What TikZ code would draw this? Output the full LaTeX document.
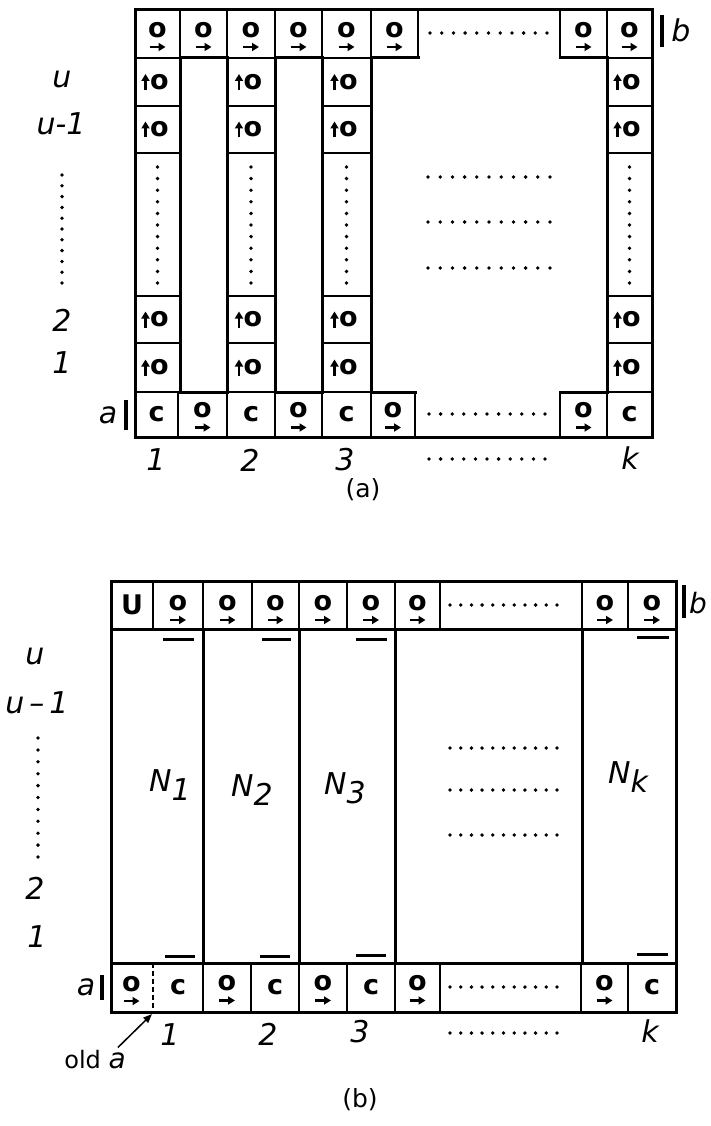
\documentclass[tikz,border=0pt]{standalone}
\usepackage{fontspec}
\setmainfont{DejaVu Sans}
\usetikzlibrary{arrows.meta}
\newcommand\OGly[3]{%
  \node[glyph] (#1) at ({#2},{#3-4}) {o};
  \draw[arr] ({#2-8},{#3+13}) -- ({#2+8},{#3+13});}
\newcommand\UGly[3]{%
  \node[glyph] (#1) at ({#2+2},{#3}) {o};
  \draw[arr] ({#2-12},{#3+8}) -- ({#2-12},{#3-8});}
\newcommand\CGly[3]{%
  \node[glyph] (#1) at ({#2},{#3}) {c};}
\begin{document}
\begin{tikzpicture}[x=1pt,y=-1pt,
  cellln/.style={line width=1.4pt},
  outln/.style={line width=3pt, line cap=rect},
  glyph/.style={font=\fontsize{27}{27}\selectfont\bfseries, inner sep=0pt},
  lbl/.style={font=\fontsize{30}{30}\selectfont\itshape, inner sep=0pt},
  captxt/.style={font=\fontsize{25}{25}\selectfont, inner sep=0pt},
  arr/.style={line width=2.3pt, -{Triangle[length=7pt,width=8pt]}},
  barln/.style={line width=3.5pt},
  dshbar/.style={line width=3pt}]
\useasboundingbox (0,0) rectangle (710,1126);

% ================= (a) =================
% top row
\foreach \xa/\xb [count=\i] in {135/180,180/227,227/275,275/322,322/371,371/418,560/607,607/652}{
  \draw[cellln] (\xa,10) rectangle (\xb,58);
  \OGly{at\i}{(\xa+\xb)/2}{34}
}
\foreach \k in {0,...,10} \fill ({430+\k*11.7},33) circle (1.9);
% columns
\foreach \xa/\xb [count=\j] in {135/180,227/275,322/371,607/652}{
  \foreach \ya/\yb/\r in {58/106/u,106/153/v,296/343/b,343/392/a}{
    \draw[cellln] (\xa,\ya) rectangle (\xb,\yb);
    \UGly{c\j\r}{(\xa+\xb)/2}{(\ya+\yb)/2}
  }
  \draw[cellln] (\xa,153) rectangle (\xb,296);
  \foreach \k in {0,...,10} \fill ({(\xa+\xb)/2},{167+\k*11.6}) circle (1.9);
}
% bottom row
\foreach \xa/\xb/\t [count=\i] in {135/178/C,178/227/O,227/275/C,275/322/O,322/371/C,371/415/O,560/607/O,607/652/C}{
  \draw[cellln] (\xa,392) rectangle (\xb,437);
  \csname\t Gly\endcsname{ab\i}{(\xa+\xb)/2}{414.5}
}
\foreach \k in {0,...,10} \fill ({429+\k*11.6},414) circle (1.9);
\foreach \k in {0,...,10} \fill ({429+\k*11.6},459) circle (1.9);
% big region dots
\foreach \yy in {177,222,268}
  \foreach \k in {0,...,10} \fill ({428+\k*12.2},\yy) circle (1.9);
% outline
\draw[outln] (135,10) rectangle (652,437);
\foreach \xa/\xb in {180/227,275/322,371/418,560/607} \draw[outln] (\xa,58) -- (\xb,58);
\foreach \xa/\xb in {180/227,275/322,371/415,560/607} \draw[outln] (\xa,392) -- (\xb,392);
\foreach \x in {180,227,275,322,371,607} \draw[outln] (\x,58) -- (\x,392);
% labels
\node[lbl] (lau) at (62,80) {u};
\node[lbl] (lau1) at (61,124) {u-1};
\foreach \k in {0,...,10} \fill (62,{175+\k*10.8}) circle (1.9);
\node[lbl] (la2) at (62,320) {2};
\node[lbl] (la1) at (62,363) {1};
\node[lbl] (laa) at (108,415) {a};
\draw[barln] (126,400) -- (126,430);
\node[lbl] (lab) at (681,30) {b};
\draw[barln] (662,15) -- (662,47);
\node[lbl] (lac1) at (156,460) {1};
\node[lbl] (lac2) at (250,460) {2};
\node[lbl] (lac3) at (345,460) {3};
\node[lbl] (lack) at (630,458) {k};
\node[captxt] (capa) at (363,490) {(a)};

% ================= (b) =================
% top row
\draw[cellln] (111,581) rectangle (153,629);
\node[glyph] (bU) at (132,605) {U};
\foreach \xa/\xb [count=\i] in {153/203,203/252,252/299,299/347,347/395,395/440,582/628,628/676}{
  \draw[cellln] (\xa,581) rectangle (\xb,629);
  \OGly{bt\i}{(\xa+\xb)/2}{607}
}
\draw[cellln] (440,581) rectangle (582,629);
\foreach \k in {0,...,10} \fill ({450+\k*10.7},605) circle (1.9);
% bottom row
\OGly{bb0}{131.5}{988}
\draw[cellln, dash pattern=on 5pt off 3pt] (153,963) -- (153,1012);
\draw[cellln] (203,963) -- (203,1012);
\CGly{bb1}{178}{987.5}
\foreach \xa/\xb/\t [count=\i] in {203/251/O,251/299/C,299/347/O,347/395/C,395/440/O,581/628/O,628/676/C}{
  \draw[cellln] (\xa,963) rectangle (\xb,1012);
  \csname\t Gly\endcsname{bbx\i}{(\xa+\xb)/2}{987.5}
}
\draw[cellln] (440,963) rectangle (581,1012);
\foreach \k in {0,...,10} \fill ({450+\k*10.7},987) circle (1.9);
\foreach \k in {0,...,10} \fill ({450+\k*10.7},1033) circle (1.9);
% big region dots
\foreach \yy in {748,790,835}
  \foreach \k in {0,...,10} \fill ({450+\k*10.7},\yy) circle (1.9);
% outline
\draw[outln] (111,581) rectangle (676,1012);
\draw[outln] (111,629) -- (676,629);
\draw[outln] (111,963) -- (676,963);
\foreach \x in {203,299,395,582} \draw[outln] (\x,629) -- (\x,963);
% bars
\draw[dshbar] (163,639) -- (194,639);
\draw[dshbar] (262,639) -- (291,639);
\draw[dshbar] (356,639) -- (387,639);
\draw[dshbar] (637,637) -- (669,637);
\draw[dshbar] (165,956) -- (195,956);
\draw[dshbar] (260,956) -- (290,956);
\draw[dshbar] (356,955) -- (386,955);
\draw[dshbar] (637,954) -- (668,954);
% N labels
\node[lbl] (N1) at (170,785) {N\raisebox{-9pt}{1}};
\node[lbl] (N2) at (252,790) {N\raisebox{-9pt}{2}};
\node[lbl] (N3) at (345,788) {N\raisebox{-9pt}{3}};
\node[lbl] (Nk) at (628,777) {N\raisebox{-9pt}{k}};
% left labels
\node[lbl] (lbu) at (35,657) {u};
\node[lbl] (lbu1) at (37,703) {u\,–\,1};
\foreach \k in {0,...,10} \fill (38,{738+\k*11.9}) circle (1.9);
\node[lbl] (lb2) at (35,888) {2};
\node[lbl] (lb1) at (37,937) {1};
\node[lbl] (lba) at (86,987) {a};
\draw[barln] (102,975) -- (102,1000);
\node[lbl, font=\fontsize{28}{28}\selectfont\itshape] (lbb) at (698,603) {b};
\draw[barln] (684,585) -- (684,618);
\node[lbl] (lbc1) at (170,1035) {1};
\node[lbl] (lbc2) at (268,1034) {2};
\node[lbl] (lbc3) at (360,1032) {3};
\node[lbl] (lbck) at (650,1031) {k};
% old a
\node[inner sep=0pt, font=\fontsize{24}{24}\selectfont] (olda) at (95,1060) {old \fontsize{28}{28}\selectfont\itshape a};
\coordinate (oldtip) at (152,1014);
\draw[line width=1.5pt, -{Triangle[length=9pt,width=7pt]}] ([xshift=-8pt,yshift=3pt]olda.north east) -- (oldtip);
\node[captxt] (capb) at (360,1100) {(b)};
\end{tikzpicture}
\end{document}
